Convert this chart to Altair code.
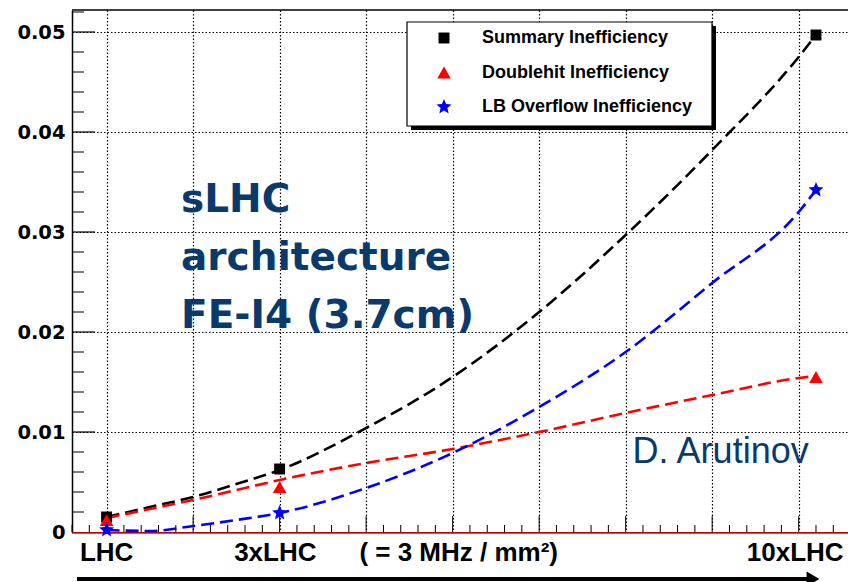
import altair as alt
import pandas as pd

# ---------------- data ----------------
series = ["Summary Inefficiency", "Doublehit Inefficiency", "LB Overflow Inefficiency"]
colors = ["#000000", "#ff0000", "#0000ff"]
STAR = ("M0,-1L0.265,-0.364L0.951,-0.309L0.428,0.139L0.588,0.809L0,0.45"
        "L-0.588,0.809L-0.428,0.139L-0.951,-0.309L-0.265,-0.364Z")
shapes = ["square", "triangle-up", STAR]
marker_sizes = [120, 250, 380]

# measured points (LHC, 3xLHC, 10xLHC)
point_x = [1, 3, 9.2]
summary_pts = [0.0015, 0.0063, 0.0497]
doublehit_pts = [0.0012, 0.0045, 0.0155]
overflow_pts = [0.0002, 0.0019, 0.0342]

# smooth (dashed) curves
curve_x = [1, 1.5, 2, 2.5, 3, 4, 5, 6, 7, 8, 9, 9.2]
summary_curve = [0.0015, 0.0025, 0.0035, 0.0048, 0.0062, 0.0104, 0.0155, 0.0220, 0.0297, 0.0382, 0.0475, 0.0497]
doublehit_curve = [0.0014, 0.0023, 0.0032, 0.0042, 0.0052, 0.0069, 0.0083, 0.0100, 0.0119, 0.0137, 0.0154, 0.0156]
overflow_curve = [0.0002, 0.0001, 0.0006, 0.0012, 0.0019, 0.0044, 0.0079, 0.0125, 0.0180, 0.0249, 0.0320, 0.0342]

# axis labels
xlabel_text = ["LHC", "3xLHC", "( = 3 MHz / mm\u00b2)", "10xLHC"]
xlabel_pos = [1.0, 2.95, 5.07, 8.96]
x_major = [1, 2, 3, 4, 5, 6, 7, 8, 9]
x_minor = [round(0.6 + 0.2 * i, 1) for i in range(45) if abs((0.6 + 0.2 * i) - round(0.6 + 0.2 * i)) > 1e-6]
y_major = [0, 0.01, 0.02, 0.03, 0.04, 0.05]
y_minor = [round(0.002 * i, 3) for i in range(1, 27) if i % 5]

# annotations
title_text = ["sLHC\narchitecture\nFE-I4 (3.7cm)"]
title_pos = ([1.86], [0.032])
author_text = ["D. Arutinov"]
author_pos = ([7.08], [0.0069])

# ---------------- layout ----------------
W, H = 776, 522
NAVY = "#0a3a6b"

xscale = alt.Scale(domain=[0.6, 9.57], nice=False, zero=False)
yscale = alt.Scale(domain=[0, 0.0522], nice=False, zero=False)
x_axis = alt.Axis(values=x_major, grid=True, gridColor="#000000", gridOpacity=1, gridDash=[1.5, 2],
                  gridWidth=1.2, ticks=False, labels=False, domain=True, domainColor="black",
                  domainWidth=1, title=None)
y_axis = alt.Axis(values=y_major, grid=True, gridColor="#000000", gridOpacity=1, gridDash=[1.5, 2],
                  gridWidth=1.2, ticks=False,
                  labelExpr="datum.value == 0 ? '0' : format(datum.value, '.2f')",
                  labelFont="DejaVu Sans", labelFontWeight="bold", labelFontSize=19.5,
                  labelColor="black", labelPadding=7, domain=True, domainColor="black",
                  domainWidth=1.5, title=None)


def X(f):
    return alt.X(f, type="quantitative", scale=xscale, axis=x_axis)


def Y(f):
    return alt.Y(f, type="quantitative", scale=yscale, axis=y_axis)


color_scale = alt.Scale(domain=series, range=colors)
shape_scale = alt.Scale(domain=series, range=shapes)
size_scale = alt.Scale(domain=series, range=marker_sizes)

curves = pd.DataFrame({
    "x": curve_x * 3,
    "y": summary_curve + doublehit_curve + overflow_curve,
    "series": [series[0]] * len(curve_x) + [series[1]] * len(curve_x) + [series[2]] * len(curve_x),
})
points = pd.DataFrame({
    "x": point_x * 3,
    "y": summary_pts + doublehit_pts + overflow_pts,
    "series": [series[0]] * 3 + [series[1]] * 3 + [series[2]] * 3,
})
one = pd.DataFrame({"a": [0]})

x_minor_ticks = alt.Chart(pd.DataFrame({"t": x_minor})).mark_rule(color="black", strokeWidth=1).encode(
    x=X("t"), y=alt.value(H), y2=alt.value(H - 7))
x_major_ticks = alt.Chart(pd.DataFrame({"t": x_major})).mark_rule(color="black", strokeWidth=1).encode(
    x=X("t"), y=alt.value(H), y2=alt.value(H - 16))
y_minor_ticks = alt.Chart(pd.DataFrame({"t": y_minor})).mark_rule(color="black", strokeWidth=1).encode(
    y=Y("t"), x=alt.value(0), x2=alt.value(12))
y_major_ticks = alt.Chart(pd.DataFrame({"t": y_major[1:]})).mark_rule(color="black", strokeWidth=1.2).encode(
    y=Y("t"), x=alt.value(0), x2=alt.value(23))

red_base = alt.Chart(one).mark_rule(color="red", strokeWidth=1.5, yOffset=1).encode(
    x=alt.value(0), x2=alt.value(W), y=alt.value(H))
top_border = alt.Chart(one).mark_rule(color="black", strokeWidth=1.5).encode(
    x=alt.value(0), x2=alt.value(W), y=alt.value(0))

lines = alt.Chart(curves).mark_line(strokeDash=[13, 6], strokeWidth=2.6, interpolate="monotone").encode(
    x=X("x"), y=Y("y"), color=alt.Color("series:N", scale=color_scale, legend=None))

marks = alt.Chart(points).mark_point(filled=True, opacity=1, strokeWidth=0).encode(
    x=X("x"), y=Y("y"),
    color=alt.Color("series:N", scale=color_scale, legend=None),
    shape=alt.Shape("series:N", scale=shape_scale, legend=None),
    size=alt.Size("series:N", scale=size_scale, legend=None))

title = alt.Chart(pd.DataFrame({"x": title_pos[0], "y": title_pos[1], "t": title_text})).mark_text(
    lineBreak="\n", lineHeight=58, align="left", baseline="alphabetic",
    font="DejaVu Sans", fontWeight="bold", fontSize=39, color=NAVY).encode(
    x=X("x"), y=Y("y"), text="t:N")

author = alt.Chart(pd.DataFrame({"x": author_pos[0], "y": author_pos[1], "t": author_text})).mark_text(
    align="left", baseline="alphabetic", font="Liberation Sans", fontSize=36, color=NAVY).encode(
    x=X("x"), y=Y("y"), text="t:N")

xlabels = alt.Chart(pd.DataFrame({"x": xlabel_pos, "t": xlabel_text})).mark_text(
    align="center", baseline="alphabetic", font="Liberation Sans", fontWeight="bold",
    fontSize=26, color="black").encode(x=X("x"), y=alt.value(H + 29), text="t:N")

arrow_line = alt.Chart(one).mark_rule(color="black", strokeWidth=4).encode(
    x=alt.value(5), x2=alt.value(736), y=alt.value(H + 47))
arrow_head = alt.Chart(one).mark_point(shape="triangle-right", filled=True, opacity=1,
                                      size=220, color="black", strokeWidth=0).encode(
    x=alt.value(741), y=alt.value(H + 47))

main = alt.layer(x_minor_ticks, x_major_ticks, y_minor_ticks, y_major_ticks, red_base, top_border,
                 lines, marks, title, author, xlabels, arrow_line, arrow_head)

# ---------------- legend ----------------
legend_df = pd.DataFrame({"series": series, "row": [0, 1, 2]})
ly = alt.Y("row:Q", scale=alt.Scale(domain=[0, 2], range=[28, 97]), axis=None)

shadow = alt.Chart(one).mark_rect(color="black").encode(
    x=alt.value(339), x2=alt.value(644), y=alt.value(16), y2=alt.value(120))
box = alt.Chart(one).mark_rect(fill="white", stroke="black", strokeWidth=1.2).encode(
    x=alt.value(335), x2=alt.value(640), y=alt.value(12), y2=alt.value(116))
leg_pts = alt.Chart(legend_df).mark_point(filled=True, opacity=1, strokeWidth=0).encode(
    x=alt.value(372), y=ly,
    color=alt.Color("series:N", scale=color_scale, legend=None),
    shape=alt.Shape("series:N", scale=shape_scale, legend=None),
    size=alt.Size("series:N", scale=size_scale, legend=None))
leg_txt = alt.Chart(legend_df).mark_text(align="left", baseline="middle", font="Liberation Sans",
                                         fontWeight="bold", fontSize=18, color="black").encode(
    x=alt.value(410), y=ly, text="series:N")

legend = alt.layer(shadow, box, leg_pts, leg_txt)

chart = alt.layer(main, legend).resolve_scale(y="independent").properties(
    width=W, height=H,
    autosize=alt.AutoSizeParams(type="none"),
    padding={"left": 72, "top": 10, "right": 0, "bottom": 50},
    background="white",
).configure_view(stroke="transparent")

chart.save("out.html", embed_options={"renderer": "svg", "actions": False})
